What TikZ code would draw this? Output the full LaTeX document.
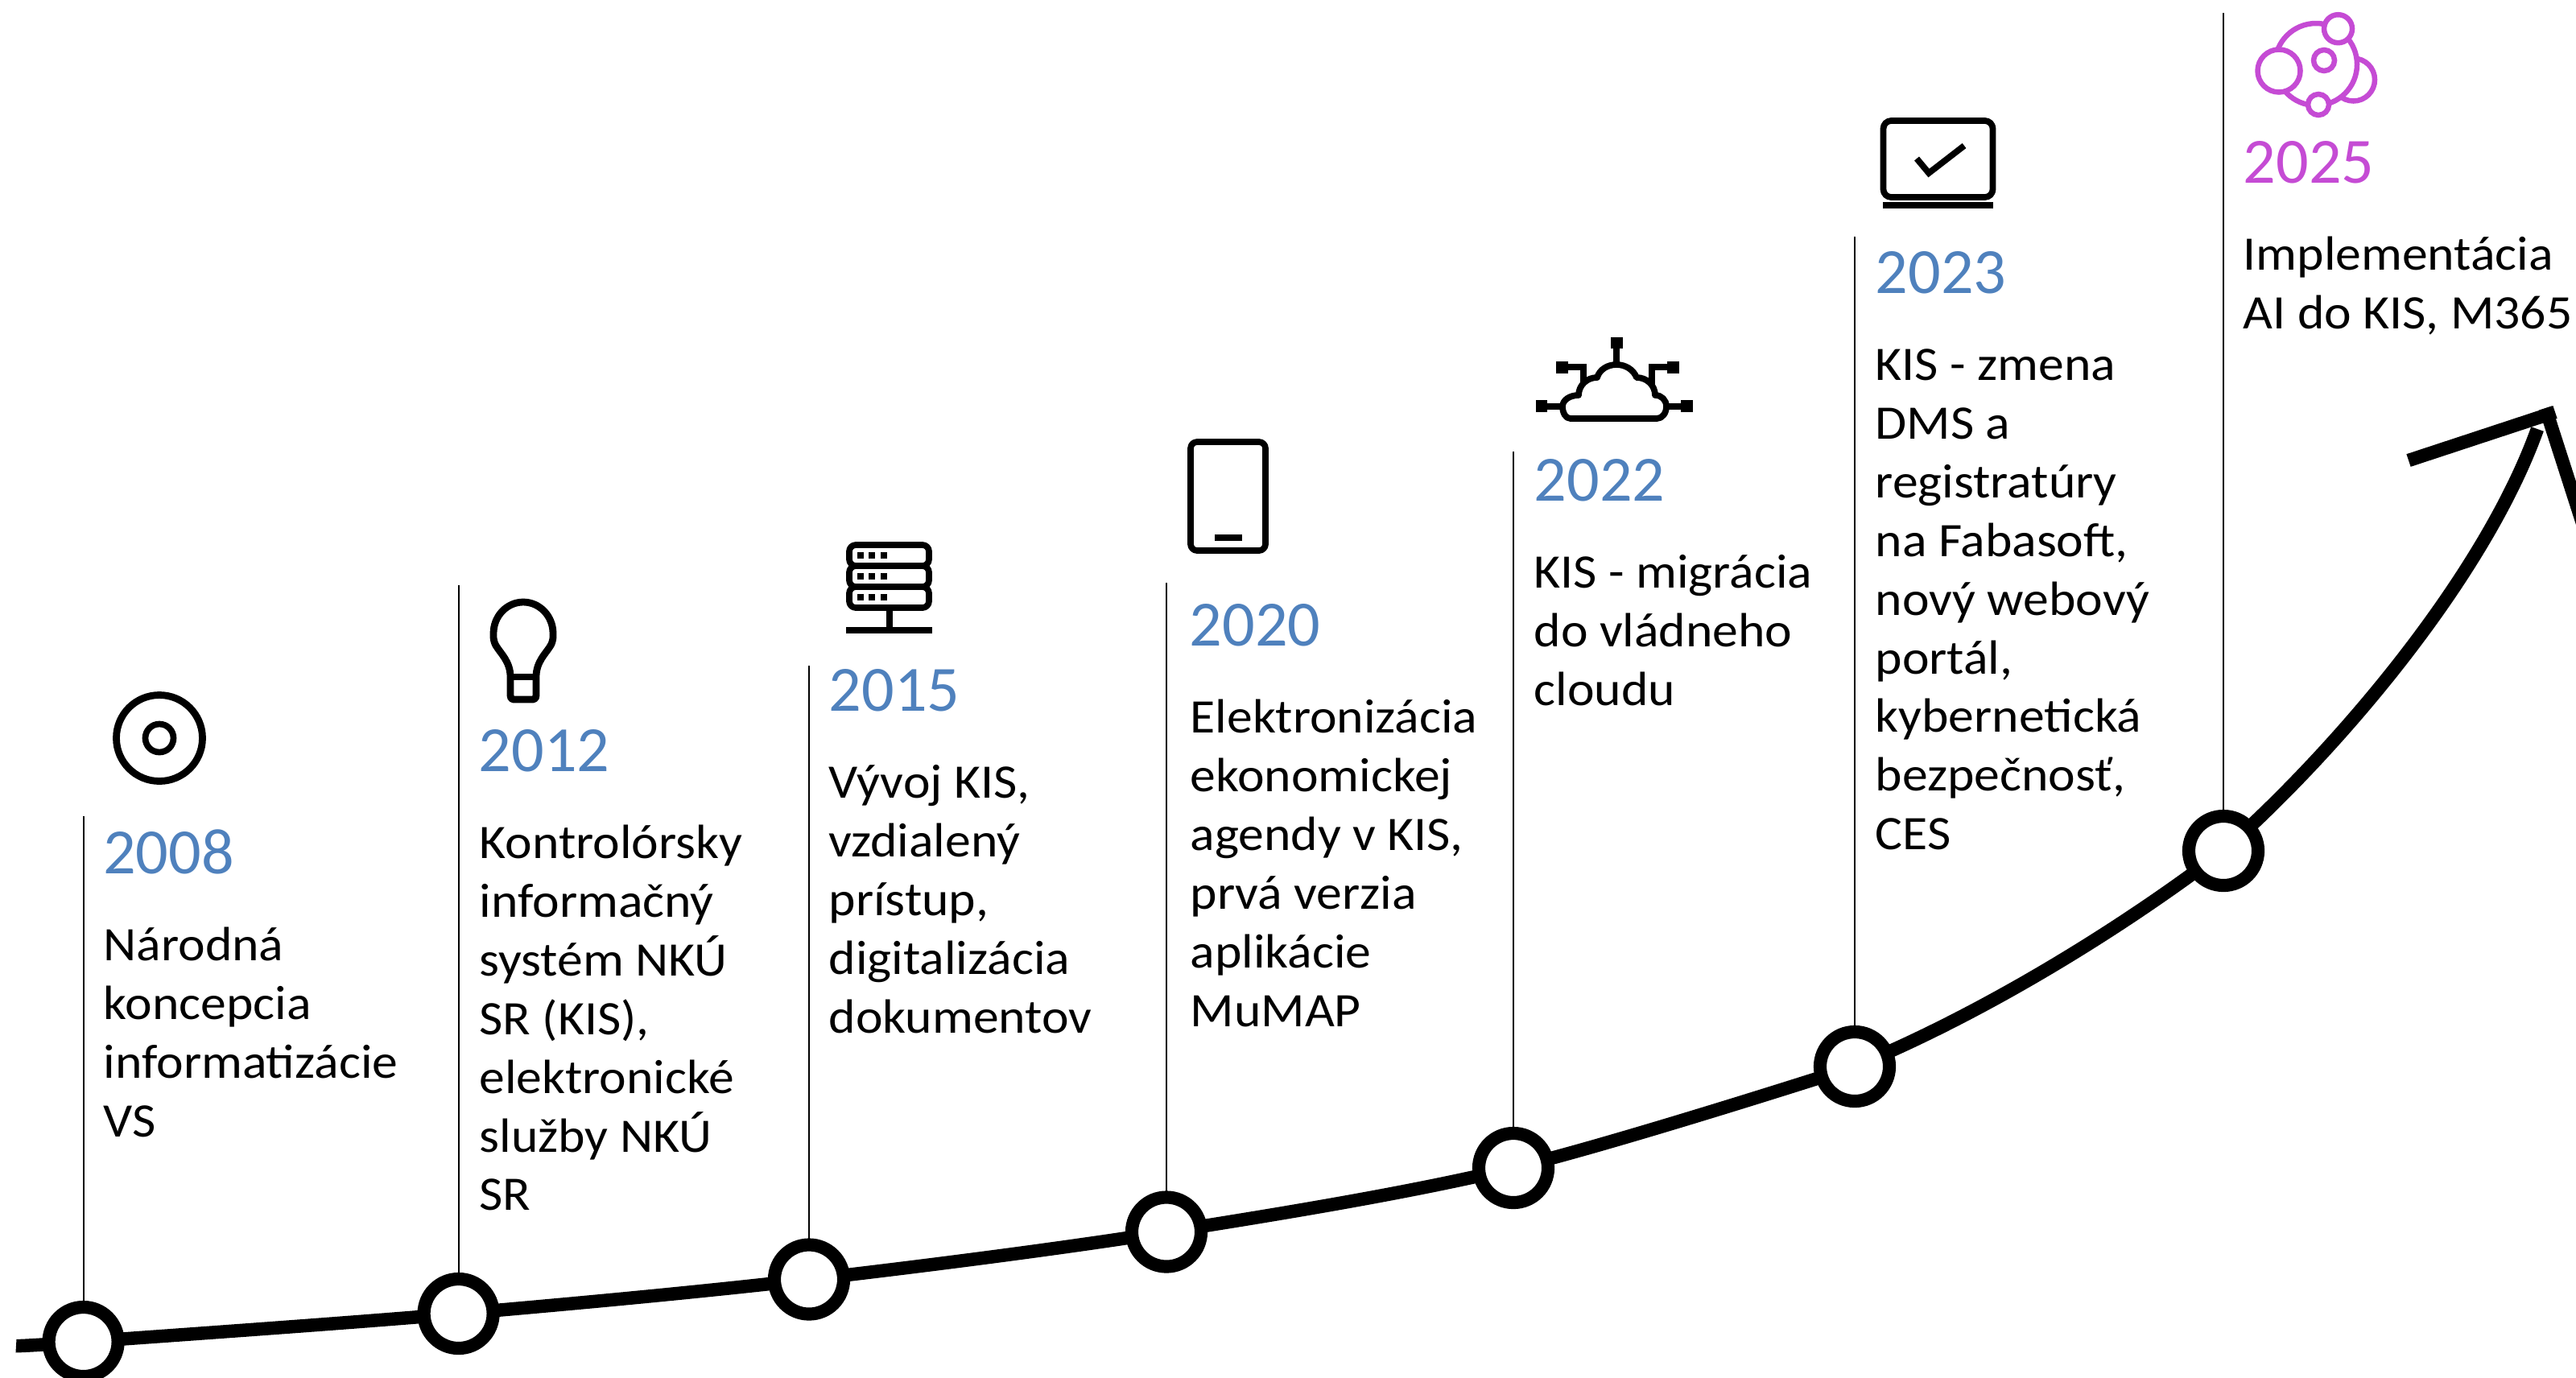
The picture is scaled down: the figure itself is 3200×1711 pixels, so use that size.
\documentclass[tikz,border=0pt]{standalone}
\usepackage{fontspec}
\setmainfont{Carlito}
\newfontfamily\bodyfamily[FakeStretch=1.065]{Carlito}
\definecolor{yearblue}{HTML}{4F81BD}
\definecolor{yearpink}{HTML}{C54BD4}
\tikzset{
  x=0.01cm,y=-0.01cm,
  curveline/.style={line width=4.7pt},
  dotnode/.style={circle,draw=black,fill=white,line width=4.6pt,minimum size=0.86cm,inner sep=0pt},
  stemline/.style={line width=0.6pt,draw=black},
  yeartext/.style={anchor=base west,inner sep=0pt,text=yearblue,font=\fontsize{22.8}{28}\selectfont},
  bodytext/.style={anchor=north west,inner sep=0pt,align=left,text=black,font=\bodyfamily\fontsize{17}{20.72}\selectfont},
  icon/.style={line width=2.2pt,draw=black,line join=round},
  iconfill/.style={fill=black,draw=none},
  pinkicon/.style={line width=1.85pt,draw=yearpink,fill=white},
}
\newcommand{\firstline}{\rule{0pt}{17.07pt}}
\begin{document}
\begin{tikzpicture}
\useasboundingbox (0,0) rectangle (3200,1711);
% curve points
\coordinate (p0) at (20,1672);
\coordinate (p1) at (103.6,1667);
\coordinate (p2) at (569.6,1632);
\coordinate (p3) at (1005,1589.5);
\coordinate (p4) at (1449,1530.5);
\coordinate (p5) at (1880,1451);
\coordinate (p6) at (2304,1325);
\coordinate (p7) at (2762,1057);
\coordinate (pe) at (3152,533);
\draw[curveline] plot[smooth,tension=0.55] coordinates {(p0) (p1) (p2) (p3) (p4) (p5) (p6)};
\draw[curveline] (p6) .. controls (2450,1265) and (2620,1165) .. (p7)
  .. controls (2900,935) and (3085,720) .. (pe);
% arrow head: two butt-ended strokes
\coordinate (h1) at (2992,572);
\coordinate (h2) at (3174,512);
\coordinate (h3) at (3162,507);
\coordinate (h4) at (3217,678);
\draw[curveline] (h1) -- (h2);
\draw[curveline] (h3) -- (h4);
% stems
\coordinate (t1) at (103.6,1014);
\coordinate (t2) at (569.6,727);
\coordinate (t3) at (1005,827);
\coordinate (t4) at (1449,724);
\coordinate (t5) at (1880,561);
\coordinate (t6) at (2304,294);
\coordinate (t7) at (2762,16);
\foreach \i in {1,...,7}{\draw[stemline] (t\i) -- (p\i);}
% dots
\foreach \i in {1,...,7}{\node[dotnode] (n\i) at (p\i) {};}
% years
\node[yeartext] (y1) at (127.5,1085) {2008};
\node[yeartext] (y2) at (594,958) {2012};
\node[yeartext] (y3) at (1029,883) {2015};
\node[yeartext] (y4) at (1477,802) {2020};
\node[yeartext] (y5) at (1905,622.5) {2022};
\node[yeartext] (y6) at (2329,364) {2023};
\node[yeartext,text=yearpink] (y7) at (2786,227.5) {2025};
% bodies: top = first baseline - 60
\node[bodytext] (b1) at (128,1133) {\firstline Národná\\koncepcia\\informatizácie\\VS};
\node[bodytext] (b2) at (595,1006) {\firstline Kontrolórsky\\informačný\\systém NKÚ\\SR (KIS),\\elektronické\\služby NKÚ\\SR};
\node[bodytext] (b3) at (1029,931) {\firstline Vývoj KIS,\\vzdialený\\prístup,\\digitalizácia\\dokumentov};
\node[bodytext] (b4) at (1478,850) {\firstline Elektronizácia\\ekonomickej\\agendy v KIS,\\prvá verzia\\aplikácie\\MuMAP};
\node[bodytext] (b5) at (1905,670) {\firstline KIS - migrácia\\do vládneho\\cloudu};
\node[bodytext] (b6) at (2329,412) {\firstline KIS - zmena\\DMS a\\registratúry\\na Fabasoft,\\nový webový\\portál,\\kybernetická\\bezpečnosť,\\CES};
\node[bodytext] (b7) at (2786,275) {\firstline Implementácia\\AI do KIS, M365};
% icon 2008 target
\draw[icon,line width=2.5pt] (198,917) circle[radius=53.5];
\draw[icon] (198,917) circle[radius=17.5];
% icon 2012 bulb
\draw[icon,line width=2.5pt] (634,841) .. controls (634,822) and (622,812) .. (616,802)
  .. controls (612,795) and (613,787) .. (613,787)
  .. controls (613,765) and (630,748) .. (650,748)
  .. controls (670,748) and (687,765) .. (687,787)
  .. controls (687,787) and (688,795) .. (684,802)
  .. controls (678,812) and (666,822) .. (666,841)
  -- (666,864) .. controls (666,867) and (665,869) .. (662,869)
  -- (638,869) .. controls (635,869) and (634,867) .. (634,864) -- cycle;
\draw[icon,line width=2.5pt] (634,841) -- (666,841);
% icon 2015 server
\foreach \a/\b in {677/703,703/729,729/755}{
  \draw[icon,rounded corners=2.3pt] (1055,\a) rectangle (1154,\b);
}
\foreach \t in {686,712,738}{
  \fill[iconfill] (1065,\t) rectangle (1073,\t+8);
  \fill[iconfill] (1079,\t) rectangle (1087,\t+8);
  \fill[iconfill] (1094,\t) rectangle (1102,\t+8);
}
\draw[icon] (1105,755) -- (1105,780);
\fill[iconfill] (1051,779) rectangle (1158,787);
% icon 2020 phone
\draw[icon,rounded corners=2.3pt] (1479,549) rectangle (1572,684);
\fill[iconfill] (1509,664) rectangle (1543,672);
% icon 2022 cloud
\draw[icon] (1951,520) -- (2058,520)
  .. controls (2065,520) and (2070,513) .. (2070,505)
  .. controls (2070,497) and (2064,491) .. (2056,491)
  .. controls (2056,479) and (2046,469) .. (2033,469)
  .. controls (2029,459) and (2019,453) .. (2008,453)
  .. controls (1997,453) and (1987,459) .. (1984,469)
  .. controls (1971,469) and (1961,479) .. (1961,491)
  .. controls (1950,491) and (1941,497) .. (1941,505)
  .. controls (1941,513) and (1945,520) .. (1951,520) -- cycle;
\draw[icon] (2008,433) -- (2008,453);
\draw[icon,line join=miter] (1948,456) -- (1967,456) -- (1967,478);
\draw[icon,line join=miter] (2071,456) -- (2052,456) -- (2052,478);
\draw[icon] (1922,505) -- (1938,505);
\draw[icon] (2072,505) -- (2088,505);
\fill[iconfill] (2001,419) rectangle (2016,433);
\fill[iconfill] (1933,449) rectangle (1948,464);
\fill[iconfill] (2071,449) rectangle (2086,464);
\fill[iconfill] (1908,497) rectangle (1922,512);
\fill[iconfill] (2088,497) rectangle (2103,512);
% icon 2023 laptop
\draw[icon,rounded corners=2.8pt] (2339.5,150) rectangle (2475.5,245);
\fill[iconfill] (2339,251) rectangle (2476,259);
\draw[icon,line join=miter] (2381,197) -- (2396,215) -- (2440,181);
% icon 2025 planet
\draw[pinkicon] (2923.5,99) circle[radius=26.5];
\draw[pinkicon] (2877,80) circle[radius=51];
\draw[pinkicon] (2831,88) circle[radius=26.5];
\draw[pinkicon] (2904.5,35.7) circle[radius=17.5];
\draw[pinkicon] (2880,130) circle[radius=13];
\draw[pinkicon] (2887,75) circle[radius=13];
\end{tikzpicture}
\end{document}
